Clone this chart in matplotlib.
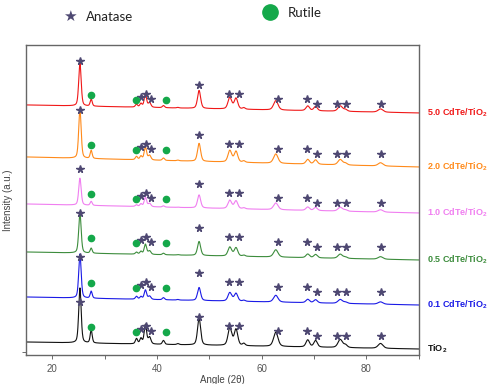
import numpy as np
import matplotlib.pyplot as plt
from matplotlib.ticker import MultipleLocator

plt.rcParams['font.family'] = ['Liberation Sans', 'DejaVu Sans']
plt.rcParams['mathtext.fontset'] = 'custom'
plt.rcParams['mathtext.bf'] = 'Liberation Sans:bold'
plt.rcParams['mathtext.rm'] = 'Liberation Sans'

# samples, bottom to top
samples = ['TiO$_\\mathbf{2}$', '0.1 CdTe/TiO$_\\mathbf{2}$', '0.5 CdTe/TiO$_\\mathbf{2}$',
           '1.0 CdTe/TiO$_\\mathbf{2}$', '2.0 CdTe/TiO$_\\mathbf{2}$', '5.0 CdTe/TiO$_\\mathbf{2}$']
colors = ['#111111', '#1a1ae6', '#3c8c3c', '#f07ef0', '#ff8a1a', '#f01818']
offsets = [0, 44, 89, 133, 182, 232]
bg_left = [13, 14, 14, 18, 16, 18]
bg_right = [6, 6, 6, 9, 6, 10]

# peak heights
main_height = [55, 44, 40, 27, 49, 43]        # anatase (101)
a48_height = [27, 13, 14, 13, 18, 18]         # anatase (200), scales minor anatase peaks
rut_height = [13, 7, 5, 4, 8, 7]              # rutile (110)

anatase_pos = [36.95, 37.8, 38.6, 48.05, 53.9, 55.1, 56.6, 62.7, 68.8, 70.3, 75.0, 76.0, 82.7]
anatase_rel = [0.2, 0.72, 0.25, 1.0, 0.62, 0.6, 0.08, 0.52, 0.26, 0.24, 0.3, 0.1, 0.18]
anatase_fwhm = [0.5, 0.55, 0.6, 0.7, 0.8, 0.8, 0.6, 1.0, 0.8, 0.8, 1.0, 0.8, 1.1]
main_pos = 25.3
main_fwhm = 0.55

rutile_pos = [27.45, 36.1, 41.25, 44.0, 54.3]
rutile_rel = [1.0, 0.4, 0.3, 0.08, 0.15]
rutile_fwhm = [0.45, 0.5, 0.5, 0.5, 0.6]

# marker positions (angle, height above curve offset)
star_x = [36.9, 37.9, 38.8, 48.1, 53.7, 55.6, 63.1, 68.7, 70.5, 74.4, 76.2, 82.8]
star_y = [26, 29, 24, 38, 29, 29, 24, 24, 19, 19, 19, 19]
main_star_y = [53, 54, 53, 53, 63, 62]
dot_x = [27.4, 36.1, 41.7]
dot_y = [28, 23, 23]

star_color = '#4e4872'
dot_color = '#14a84a'


def peak(x, x0, h, fwhm):
    g = fwhm / 2.0
    lor = 1.0 / (1 + ((x - x0) / g) ** 2)
    gau = np.exp(-np.log(2) * ((x - x0) / g) ** 2)
    return h * (0.6 * gau + 0.4 * lor)


x = np.linspace(15, 90, 3000)

fig = plt.figure(figsize=(4.95, 3.84), dpi=100)
ax = fig.add_axes([0.0525, 0.0755, 0.7935, 0.8075])

for i in range(len(samples)):
    y = bg_left[i] + (bg_right[i] - bg_left[i]) * (x - 15) / 75.0
    y = y + peak(x, main_pos, main_height[i], main_fwhm)
    for p, r, w in zip(anatase_pos, anatase_rel, anatase_fwhm):
        y = y + peak(x, p, r * a48_height[i], w)
    for p, r, w in zip(rutile_pos, rutile_rel, rutile_fwhm):
        y = y + peak(x, p, r * rut_height[i], w)
    ax.plot(x, y + offsets[i], color=colors[i], lw=0.8, zorder=2)

    ax.plot(star_x, np.array(star_y) + offsets[i], ls='none', marker='*',
            ms=5.5, color=star_color, zorder=3)
    ax.plot([25.4], [main_star_y[i] + offsets[i]], ls='none', marker='*',
            ms=5.5, color=star_color, zorder=3)
    ax.plot(dot_x, np.array(dot_y) + offsets[i], ls='none', marker='o',
            ms=4.5, color=dot_color, zorder=3)

    ax.text(91.5, offsets[i] + bg_right[i], samples[i], color=colors[i],
            fontsize=6.5, fontweight='bold', va='center', ha='left', clip_on=False)

ax.set_xlim(15, 90)
ax.set_ylim(0, 310)
ax.xaxis.set_major_locator(MultipleLocator(20))
ax.xaxis.set_minor_locator(MultipleLocator(10))
ax.set_yticks([3])
ax.set_yticklabels([''])
ax.tick_params(axis='x', which='both', direction='out', labelsize=7, colors='#555555',
               length=3, width=0.6)
ax.tick_params(axis='y', direction='out', length=3, width=0.6, colors='#555555')
for s in ax.spines.values():
    s.set_color('#666666')
    s.set_linewidth(1.0)

ax.set_xlabel('Angle (2θ)', fontsize=7, color='#444444', labelpad=1)
ax.set_ylabel('Intensity (a.u.)', fontsize=7, color='#444444', labelpad=3)

# legend at top
fig.text(70 / 495, 1 - 16 / 384, '★', fontsize=11, color=star_color, ha='center',
         va='center', family='DejaVu Sans')
fig.text(86 / 495, 1 - 17 / 384, 'Anatase', fontsize=9.5, family='Lato', ha='left',
         va='center', color='#222222')
fig.add_artist(plt.Line2D([270 / 495], [1 - 12 / 384], marker='o', ms=11,
                          color=dot_color, transform=fig.transFigure))
fig.text(288 / 495, 1 - 13 / 384, 'Rutile', fontsize=9.5, family='Lato', ha='left',
         va='center', color='#222222')

fig.savefig('out.png', dpi=100)
